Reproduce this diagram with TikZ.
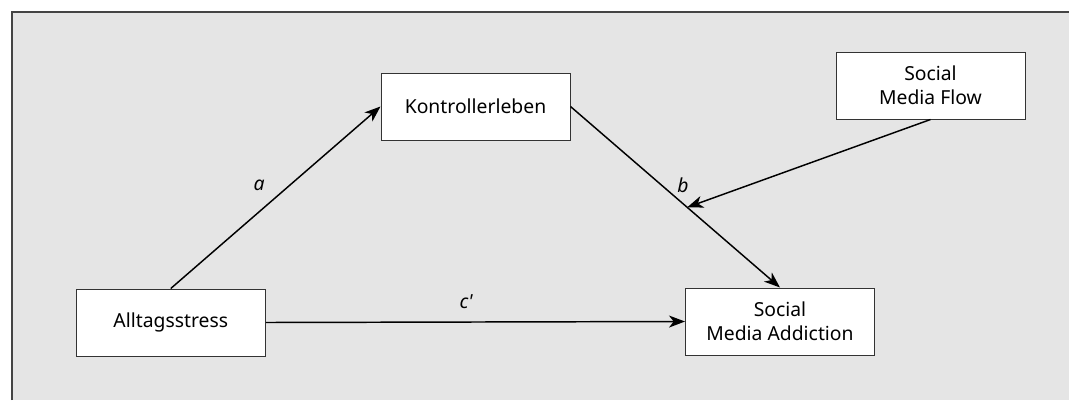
\documentclass[tikz,border=0pt]{standalone}
\usepackage{fontspec}
\setmainfont{Noto Sans}
\usetikzlibrary{arrows.meta}

\definecolor{panelgray}{RGB}{229,229,229}
\definecolor{framegray}{RGB}{68,68,68}
\definecolor{boxline}{RGB}{51,51,51}

\tikzset{every picture/.style={line width=0.75pt}}
\tikzset{
	box/.style={draw=boxline, fill=white, minimum width=141.75pt, minimum height=50.25pt, inner sep=0pt, align=center, font=\fontsize{14.5}{17.8}\selectfont},
	path/.style={draw=black, line width=1.1pt, -{Stealth[length=12pt,width=9pt,inset=3.5pt]}},
	coef/.style={font=\fontsize{14.5}{17.8}\selectfont\itshape}
}

\begin{document}
\begin{tikzpicture}[x=0.75pt,y=0.75pt,yscale=-1,xscale=1]
	\useasboundingbox (0,0) rectangle (1069,400);

	%Shape: Rectangle [id:panel]
	\fill [panelgray] (12,12) rectangle (1069,400);
	\draw [framegray, line width=1.5pt] (12,400) -- (12,12) -- (1069,12);

	% Text Node
	\node [box] (stress) at (170.75,322.5) {Alltagsstress};
	% Text Node
	\node [box] (kontrolle) at (475.5,106.5) {Kontrollerleben};
	% Text Node
	\node [box] (flow) at (930.5,85.5) {Social\\Media Flow};
	% Text Node
	\node [box] (addiction) at (780,321.5) {Social\\Media Addiction};

	%Straight Lines [id:a]
	\draw [path] (stress.north) -- (kontrolle.west);
	%Straight Lines [id:b]
	\draw [path] (kontrolle.east) -- coordinate[pos=0.557] (moderation) (addiction.north);
	%Straight Lines [id:c]
	\draw [path] (stress.east) -- (addiction.west);
	%Straight Lines [id:flow]
	\draw [path] (flow.south) -- (moderation);

	% Text Node
	\node [coef] (alabel) at (259,185) {a};
	% Text Node
	\node [coef] (blabel) at (683,185) {b};
	% Text Node
	\node [coef] (clabel) at (466,302) {c\textquotesingle};

\end{tikzpicture}
\end{document}
